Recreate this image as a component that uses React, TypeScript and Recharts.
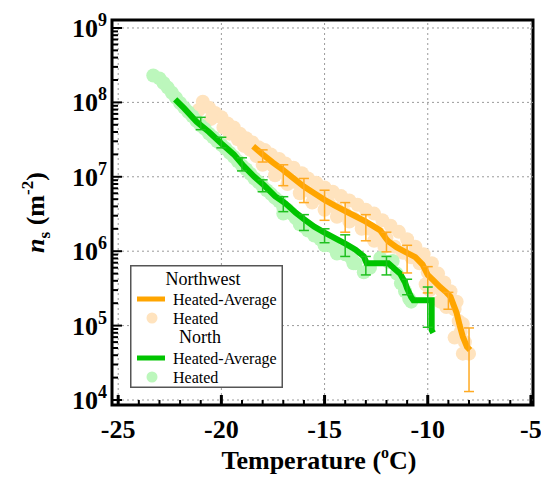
import React from 'react';
import {
  ComposedChart,
  XAxis,
  YAxis,
  Scatter,
  ReferenceLine,
  ReferenceArea,
  Legend,
  Label,
} from 'recharts';

const FONT = "'Liberation Serif', 'Times New Roman', serif";
const ORANGE = '#FFA500';
const ORANGE_BAR = '#FFAA22';
const PEACH = '#FFE3BE';
const GREEN = '#00C400';
const GREEN_BAR = '#1FC01F';
const PALE_GREEN = '#BCF7BC';

// Northwest, heated samples (temperature °C, ns m^-2)
const nwHeatedT = [
  -20.9, -21.1, -20.6, -20.3, -20.0, -20.5, -19.7, -19.9, -19.4, -19.6, -19.1, -19.2, -18.8, -18.9, -18.5,
  -18.6, -18.2, -18.3, -17.9, -17.9, -17.6, -17.5, -17.2, -17.2, -16.9, -16.8, -16.5, -16.4, -16.1, -16.0,
  -15.8, -15.6, -15.4, -15.2, -15.0, -14.8, -14.6, -14.4, -14.2, -14.0, -13.8, -13.6, -13.4, -13.2, -13.0,
  -12.8, -12.6, -12.6, -12.4, -12.2, -12.1, -12.0, -11.8, -11.6, -11.4, -11.2, -11.0, -10.8, -10.6, -10.4,
  -10.2, -10.0, -9.8, -9.7, -9.5, -9.4, -9.3, -9.2, -9.1, -9.0, -8.9, -8.7, -8.6, -8.7, -8.5,
  -8.3, -8.4, -8.3, -8.2, -8.0, -10.1, -9.9, -18.0, -17.4, -16.8, -16.2, -15.6, -15.0, -14.4, -13.8,
  -13.2,
];
const nwHeatedNs = [
  1.02e8, 7.9e7, 8.5e7, 7.2e7, 6.3e7, 6.0e7, 5.2e7, 4.6e7, 4.6e7, 3.8e7, 3.8e7, 3.2e7, 3.3e7, 2.6e7, 2.9e7,
  2.3e7, 2.5e7, 1.9e7, 2.3e7, 1.66e7, 2.0e7, 1.41e7, 1.74e7, 1.15e7, 1.51e7, 1.0e7, 1.32e7, 8.5e6, 1.12e7, 6.9e6,
  9.5e6, 6.0e6, 8.3e6, 5.2e6, 7.2e6, 4.4e6, 6.3e6, 3.7e6, 5.5e6, 3.2e6, 4.8e6, 2.75e6, 4.2e6, 2.35e6, 3.6e6,
  2.0e6, 3.2e6, 1.38e6, 1.74e6, 2.6e6, 1.15e6, 1.51e6, 2.2e6, 1.15e6, 1.82e6, 9.5e5, 1.45e6, 8.3e5, 1.15e6, 6.9e5,
  9.1e5, 5.2e5, 6.9e5, 3.8e5, 5.0e5, 2.1e5, 2.9e5, 3.8e5, 1.78e5, 2.3e5, 2.9e5, 1.66e5, 2.1e5, 6.9e4, 1.15e5,
  1.05e5, 8.3e4, 4.2e4, 6.0e4, 4.2e4, 3.6e5, 3.0e5, 1.45e7, 1.05e7, 8.0e6, 6.0e6, 4.5e6, 3.6e6, 2.9e6, 2.5e6,
  2.0e6,
];

// Northwest, heated average
const nwAvgT = [
  -18.46, -18.0, -17.5, -17.0, -16.5, -16.0, -15.5, -15.0, -14.5, -14.0, -13.5, -13.0, -12.6, -12.3, -12.0, -11.9,
  -11.5, -11.0, -10.6, -10.25, -10.0, -9.7, -9.4, -9.1, -8.9, -8.75, -8.6, -8.45, -8.3, -8.1, -7.95,
];
const nwAvgNs = [
  2.57e7, 2.0e7, 1.55e7, 1.23e7, 9.5e6, 7.4e6, 6.0e6, 4.9e6, 4.1e6, 3.47e6, 2.95e6, 2.5e6, 2.14e6, 1.9e6, 1.45e6, 1.35e6,
  1.12e6, 9.5e5, 8.3e5, 6.6e5, 4.8e5, 4.0e5, 3.3e5, 2.8e5, 2.45e5, 1.9e5, 1.48e5, 1.0e5, 7.1e4, 5.2e4, 4.7e4,
];

// Northwest error bars (low / high bounds)
const nwBarT = [-18, -17, -16, -15, -14, -13, -12, -11, -10, -9, -8];
const nwBarLow = [1.58e7, 7.6e6, 4.5e6, 2.6e6, 1.8e6, 1.38e6, 9.8e5, 5.1e5, 2.75e5, 1.66e5, 1.3e4];
const nwBarHigh = [2.3e7, 1.45e7, 9.5e6, 6.6e6, 4.5e6, 3.1e6, 1.8e6, 1.2e6, 6.2e5, 2.8e5, 9.3e4];

// North, heated samples
const nHeatedT = [
  -23.3, -23.0, -22.8, -22.6, -22.4, -22.2, -22.0, -21.8, -21.6, -21.4, -21.2, -21.0, -20.8, -20.6, -20.4,
  -20.2, -20.0, -19.8, -19.6, -19.4, -19.2, -19.0, -18.8, -18.6, -18.4, -18.2, -18.0, -17.8, -17.6, -17.4,
  -17.2, -17.0, -16.8, -16.6, -16.4, -16.2, -16.0, -15.8, -15.5, -15.2, -14.9, -14.6, -14.3, -14.0, -13.7,
  -13.5, -13.1, -12.8, -12.3, -11.9, -11.7, -11.5, -11.3, -11.1, -10.9, -10.8, -17.0, -15.0, -14.4, -13.6,
];
const nHeatedNs = [
  2.3e8, 2.1e8, 1.82e8, 1.58e8, 1.35e8, 1.15e8, 9.8e7, 8.5e7, 7.4e7, 6.5e7, 5.6e7, 4.9e7, 4.4e7, 3.8e7, 3.4e7,
  3.0e7, 2.7e7, 2.4e7, 2.1e7, 1.86e7, 1.62e7, 1.41e7, 1.26e7, 1.1e7, 9.5e6, 8.5e6, 7.4e6, 6.6e6, 5.9e6, 5.2e6,
  4.7e6, 3.8e6, 3.6e6, 3.2e6, 2.8e6, 2.3e6, 2.14e6, 1.9e6, 1.62e6, 1.45e6, 1.29e6, 1.15e6, 1.0e6, 9.1e5, 8.1e5,
  6.9e5, 5.2e5, 6.0e5, 8.1e5, 7.2e5, 7.4e5, 5.0e5, 3.7e5, 2.9e5, 2.3e5, 2.1e5, 3.2e6, 1.2e6, 9.3e5, 6.9e5,
];

// North, heated average
const nAvgT = [
  -22.24, -21.8, -21.2, -20.6, -20.0, -19.4, -18.9, -18.4, -17.96, -17.4, -16.9, -16.4, -16.0, -15.5, -15.0,
  -14.5, -14.0, -13.5, -13.1, -12.96, -11.91, -11.6, -11.34, -11.1, -11.0, -10.8, -10.7, -9.81, -9.81, -9.74,
];
const nAvgNs = [
  1.1e8, 8.3e7, 5.5e7, 4.0e7, 2.8e7, 2.0e7, 1.38e7, 1.0e7, 7.8e6, 5.5e6, 4.4e6, 3.3e6, 2.7e6, 2.14e6, 1.78e6,
  1.5e6, 1.26e6, 1.05e6, 8.5e5, 6.9e5, 6.9e5, 5.75e5, 5.0e5, 3.8e5, 3.16e5, 2.4e5, 2.2e5, 2.2e5, 8.7e4, 8.0e4,
];

// North error bars (low / high bounds)
const nBarT = [-21, -20, -19, -18, -17, -16, -15, -14, -13, -12, -11, -10];
const nBarLow = [4.3e7, 2.45e7, 1.2e7, 6.3e6, 3.4e6, 1.9e6, 1.3e6, 8.5e5, 4.8e5, 4.8e5, 2.6e5, 9.5e4];
const nBarHigh = [6.3e7, 3.4e7, 1.8e7, 9.1e6, 5.4e6, 3.1e6, 2.0e6, 1.66e6, 8.5e5, 8.5e5, 4.2e5, 3.3e5];

const xTicks = [
  -25, -24, -23, -22, -21, -20, -19, -18, -17, -16, -15, -14, -13, -12, -11, -10, -9, -8, -7, -6, -5,
];
const xMajor = [-25, -20, -15, -10, -5];
const yDecades = [1e4, 1e5, 1e6, 1e7, 1e8, 1e9];
const yMinorSteps = [1, 2, 3, 4, 5, 6, 7, 8, 9];
const yTicks = yDecades.flatMap((d, i) => (i === yDecades.length - 1 ? [d] : yMinorSteps.map((m) => m * d)));

const xDomain = [-25.3, -4.9];
const yDomain = [8570, 1.28e9];

const toPoints = (ts: number[], vs: number[]) => ts.map((t, i) => ({ t, v: vs[i] }));
const toBars = (ts: number[], lo: number[], hi: number[]) =>
  ts.map((t, i) => [
    { t, v: lo[i] },
    { t, v: hi[i] },
  ]);

const nwHeated = toPoints(nwHeatedT, nwHeatedNs);
const nwAvg = toPoints(nwAvgT, nwAvgNs);
const nwBars = toBars(nwBarT, nwBarLow, nwBarHigh);
const nHeated = toPoints(nHeatedT, nHeatedNs);
const nAvg = toPoints(nAvgT, nAvgNs);
const nBars = toBars(nBarT, nBarLow, nBarHigh);

function XTick({ x, y, payload }: any) {
  const major = xMajor.includes(payload.value);
  return (
    <g>
      <line x1={x} x2={x} y1={y} y2={y - (major ? 10 : 5)} stroke="#000" strokeWidth={major ? 3 : 2} />
      {major && (
        <text x={x} y={y + 33} textAnchor="middle" fontSize={26} fontWeight="bold" fontFamily={FONT} fill="#000">
          {payload.value}
        </text>
      )}
    </g>
  );
}

function YTick({ x, y, payload }: any) {
  const major = yDecades.includes(payload.value);
  return (
    <g>
      <line x1={x} x2={x + (major ? 10 : 6)} y1={y} y2={y} stroke="#000" strokeWidth={2} />
      {major && (
        <text x={x - 5} y={y + 9} textAnchor="end" fontSize={26} fontWeight="bold" fontFamily={FONT} fill="#000">
          <tspan>10</tspan>
          <tspan dy={-11} fontSize={18}>
            {Math.round(Math.log10(payload.value))}
          </tspan>
        </text>
      )}
    </g>
  );
}

function YTitle({ viewBox }: any) {
  const x = viewBox.x + 43.5;
  const y = viewBox.y + viewBox.height / 2;
  return (
    <text
      x={x}
      y={y}
      textAnchor="middle"
      transform={`rotate(-90, ${x}, ${y})`}
      fontSize={26}
      fontWeight="bold"
      fontFamily={FONT}
      fill="#000"
    >
      <tspan fontStyle="italic">n</tspan>
      <tspan fontSize={17} dy={6}>s</tspan>
      <tspan dy={-6}> (m</tspan>
      <tspan fontSize={17} dy={-11}>-2</tspan>
      <tspan dy={11}>)</tspan>
    </text>
  );
}

function XTitle({ viewBox }: any) {
  return (
    <text x={319} y={viewBox.y + 64} textAnchor="middle" fontSize={26} fontWeight="bold" fontFamily={FONT} fill="#000">
      <tspan>Temperature (</tspan>
      <tspan fontSize={16} dy={-11}>o</tspan>
      <tspan dy={11}>C)</tspan>
    </text>
  );
}

function LegendBox() {
  return (
    <svg width={153} height={123} style={{ display: 'block' }} fontFamily={FONT}>
      <rect x={0.75} y={0.75} width={151.5} height={121.5} fill="#fff" stroke="#555" strokeWidth={1.5} />
      <text x={73} y={20} textAnchor="middle" fontSize={18}>Northwest</text>
      <line x1={7} x2={35} y1={34} y2={34} stroke={ORANGE} strokeWidth={5} />
      <text x={43} y={39.5} fontSize={16}>Heated-Average</text>
      <circle cx={22} cy={53} r={5.5} fill={PEACH} />
      <text x={43} y={58.5} fontSize={16}>Heated</text>
      <text x={70} y={78} textAnchor="middle" fontSize={18}>North</text>
      <line x1={7} x2={35} y1={93} y2={93} stroke={GREEN} strokeWidth={5} />
      <text x={43} y={98.5} fontSize={16}>Heated-Average</text>
      <circle cx={22} cy={112} r={5.5} fill={PALE_GREEN} />
      <text x={43} y={117.5} fontSize={16}>Heated</text>
    </svg>
  );
}

const dotShape = (fill: string) => (p: any) => <circle cx={p.cx} cy={p.cy} r={7} fill={fill} />;
const capShape = (color: string) => (p: any) => (
  <line x1={p.cx - 5} x2={p.cx + 5} y1={p.cy} y2={p.cy} stroke={color} strokeWidth={1.5} />
);
const noShape = () => <g />;

export default function App() {
  return (
    <div style={{ position: 'absolute', left: 0, top: 0, background: '#fff' }}>
      <ComposedChart width={541} height={477} margin={{ top: 20, right: 8, bottom: 0, left: 0 }}>
        <XAxis
          type="number"
          dataKey="t"
          domain={xDomain}
          allowDataOverflow
          ticks={xTicks}
          interval={0}
          tick={<XTick />}
          tickLine={false}
          axisLine={false}
          tickSize={0}
          tickMargin={0}
          height={72}
        >
          <Label content={<XTitle />} />
        </XAxis>
        <YAxis
          type="number"
          dataKey="v"
          scale="log"
          domain={yDomain}
          allowDataOverflow
          ticks={yTicks}
          interval={0}
          tick={<YTick />}
          tickLine={false}
          axisLine={false}
          tickSize={0}
          tickMargin={0}
          width={112}
        >
          <Label content={<YTitle />} />
        </YAxis>

        {xMajor.map((v) => (
          <ReferenceLine key={`gx${v}`} x={v} stroke="#9a9a9a" strokeDasharray="2 3" strokeWidth={1} />
        ))}
        {yDecades.map((v) => (
          <ReferenceLine key={`gy${v}`} y={v} stroke="#9a9a9a" strokeDasharray="2 3" strokeWidth={1} />
        ))}

        <Scatter data={nwHeated} dataKey="v" shape={dotShape(PEACH)} isAnimationActive={false} />
        <Scatter data={nHeated} dataKey="v" shape={dotShape(PALE_GREEN)} isAnimationActive={false} />

        <Scatter
          data={nwAvg}
          dataKey="v"
          shape={noShape}
          line={{ stroke: ORANGE, strokeWidth: 6 }}
          lineType="joint"
          isAnimationActive={false}
        />
        <Scatter
          data={nAvg}
          dataKey="v"
          shape={noShape}
          line={{ stroke: GREEN, strokeWidth: 6 }}
          lineType="joint"
          isAnimationActive={false}
        />

        {nwBars.map((bar, i) => (
          <Scatter
            key={`nwb${i}`}
            data={bar}
            dataKey="v"
            shape={capShape(ORANGE_BAR)}
            line={{ stroke: ORANGE_BAR, strokeWidth: 1.5 }}
            lineType="joint"
            isAnimationActive={false}
          />
        ))}
        {nBars.map((bar, i) => (
          <Scatter
            key={`nb${i}`}
            data={bar}
            dataKey="v"
            shape={capShape(GREEN_BAR)}
            line={{ stroke: GREEN_BAR, strokeWidth: 1.5 }}
            lineType="joint"
            isAnimationActive={false}
          />
        ))}

        <ReferenceArea
          x1={xDomain[0]}
          x2={xDomain[1]}
          y1={yDomain[0]}
          y2={yDomain[1]}
          fill="none"
          fillOpacity={0}
          stroke="#000"
          strokeWidth={3}
        />

        <Legend
          layout="vertical"
          align="center"
          verticalAlign="middle"
          wrapperStyle={{ left: 130, top: 265, width: 153, height: 123 }}
          content={<LegendBox />}
        />
      </ComposedChart>
    </div>
  );
}
